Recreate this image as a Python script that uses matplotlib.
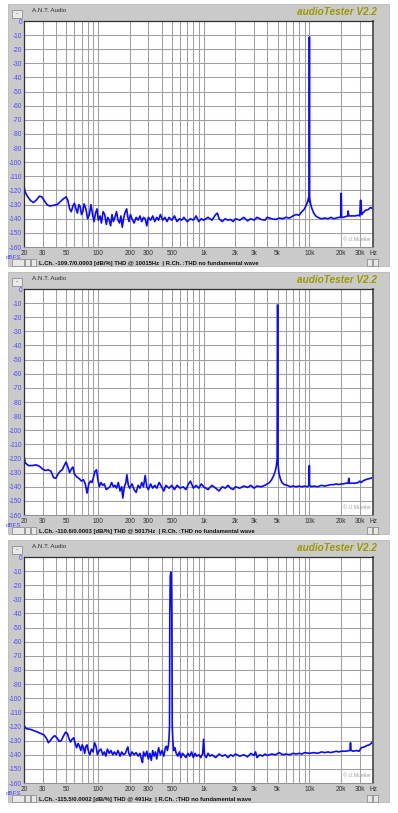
import matplotlib
matplotlib.use('Agg')
import matplotlib.pyplot as plt
from matplotlib.patches import Rectangle
from matplotlib.ticker import FixedLocator, NullFormatter

W, H = 398, 813

# --- data: measured spectra (Hz, dBFS) ---
freq_10k = [20, 20.5, 21.5, 23, 24.5, 26, 28, 29.5, 31, 33, 35, 38, 41, 44, 47, 50, 52, 54, 56, 58,
            60, 62, 64, 66, 68, 70, 72, 74, 77, 80, 83, 86, 89, 92, 95, 98, 101, 105, 108, 112,
            116, 120, 124, 128, 132, 136, 140, 145, 150, 155, 160, 165, 170, 175, 180, 187, 192, 197, 203, 210,
            220, 230, 240, 250, 260, 270, 280, 290, 300, 315, 330, 345, 360, 375, 390, 410, 430, 450, 470, 500,
            530, 560, 590, 620, 650, 700, 750, 800, 850, 900, 950, 1000, 1100, 1200, 1300, 1350, 1400, 1500, 1600, 1700,
            1800, 1900, 2000, 2200, 2400, 2600, 2800, 3000, 3200, 3500, 3800, 4000, 4400, 4800, 5200, 5600, 6000, 6500, 7000, 7500,
            8000, 8500, 9000, 9400, 9700, 9850, 9960, 9990, 10030, 10060, 10100, 10300, 10600, 11000, 11500, 12000, 13000, 14000, 15000, 16000,
            17000, 18000, 19000, 19800, 19950, 20050, 20200, 21000, 22000, 23000, 23300, 23600, 25000, 27000, 29000, 30000, 30400, 30800, 31200, 32000,
            34000, 36000, 38000, 40000]
level_10k = [-117, -121, -124, -127, -128.5, -127, -124, -124.5, -127, -130, -131, -130.5, -130, -128, -126, -124.5, -127, -133, -135, -131,
             -129, -133, -136, -130, -131.5, -137, -135, -129.5, -133, -140, -137, -130, -137, -142, -136, -133, -141, -138, -143, -135,
             -137, -144, -139, -141, -145, -137, -142, -139, -135, -141, -143, -138, -146, -140, -136, -133, -139, -142, -137, -140,
             -143, -139, -141, -138, -142, -139, -140, -145, -139, -141, -138, -142, -139, -141, -137, -141, -139, -142, -139, -141,
             -138, -142, -140, -141, -139, -142, -140, -141, -138, -142, -140, -141, -139, -141, -137, -136, -140, -142, -140, -141,
             -140.5, -142, -140, -141, -139, -141.5, -140, -141, -139, -140.5, -141, -139, -140, -140.5, -139.5, -140, -139, -139.5, -138, -137,
             -137.5, -135, -133, -130, -127, -125, -128, -11.3, -11.3, -126, -126, -130, -133, -136, -138, -139, -140, -139.5, -140, -139,
             -140, -139.5, -139, -139, -122, -122, -139, -139, -138.5, -138, -134.5, -138, -138, -138, -137.5, -138, -127, -127, -137, -136,
             -134, -133.5, -132, -133]

freq_5k = [20, 20.5, 22, 24, 26, 28, 30, 32, 34, 36, 38, 40, 42, 44, 46, 48, 50, 52, 54, 56,
           58, 60, 63, 66, 70, 73, 76, 79, 82, 85, 88, 91, 94, 97, 100, 103, 107, 111, 115, 120,
           125, 130, 135, 140, 145, 150, 156, 162, 168, 172, 178, 184, 188, 194, 200, 210, 220, 230, 240, 250,
           260, 270, 280, 290, 300, 315, 330, 345, 360, 380, 400, 420, 440, 470, 500, 530, 560, 600, 640, 680,
           720, 750, 800, 850, 900, 950, 1000, 1100, 1200, 1300, 1400, 1500, 1600, 1700, 1800, 1900, 2000, 2200, 2400, 2600,
           2800, 3000, 3200, 3500, 3800, 4000, 4200, 4400, 4600, 4800, 4900, 4960, 4990, 5030, 5060, 5150, 5300, 5500, 5800, 6200,
           6600, 7000, 7500, 8000, 8500, 9000, 9600, 9950, 10000, 10050, 10500, 11000, 12000, 13000, 14000, 15000, 16000, 17000, 18000, 19000,
           20000, 21000, 22000, 23300, 23600, 23900, 25000, 27000, 29000, 30000, 31000, 32000, 34000, 36000, 38000, 40000]
level_5k = [-118, -123, -125, -125, -124.5, -125.5, -127.5, -128.5, -128, -129, -133.5, -134, -131, -129, -128, -125, -122.5, -126, -130, -127.5,
            -126, -131, -133, -134, -136, -135, -138, -144.5, -138, -136, -137, -133, -129, -128, -135, -140, -137, -139, -138, -142,
            -141, -140, -137, -140, -139, -141, -137, -143, -140, -148, -140, -137, -131.5, -139, -141, -138, -142, -144, -139, -141,
            -137, -140, -132, -140, -142, -138, -141, -139, -141, -137, -140, -143, -139, -141, -139, -142, -139, -141, -140, -142,
            -138, -136, -141, -139, -141, -138, -140, -142, -139, -141, -143, -140, -141, -139, -141, -142, -140, -141, -139.5, -140.5,
            -139, -141, -139.5, -140, -139, -138, -137, -135, -132, -128, -124, -120, -11.3, -11.3, -124, -130, -134, -137, -138.5, -139,
            -140, -139.5, -140, -139.5, -140, -139.5, -140, -139, -125, -139, -140, -139.5, -140, -139, -139.5, -139, -138.5, -138.5, -138, -138.5,
            -138, -138, -137.5, -137.5, -134, -137.5, -137.5, -137.5, -137, -136, -137, -136, -135, -134.5, -134, -133.5]

freq_491 = [20, 21, 23, 25, 27, 29, 31, 33, 34, 35.5, 37, 39, 41, 43, 45, 47, 49.5, 51.5, 53, 55,
            57, 59, 61, 63, 65, 67, 69, 71, 73, 75, 77, 79, 81, 84, 87, 90, 93, 96, 99, 103,
            107, 111, 115, 119, 123, 128, 133, 138, 143, 149, 155, 162, 168, 175, 182, 188, 192, 196, 202, 210,
            220, 230, 240, 250, 258, 264, 270, 280, 290, 300, 310, 320, 330, 340, 350, 360, 375, 390, 405, 420,
            435, 445, 455, 465, 470, 476, 479, 484, 489, 494, 500, 505, 512, 520, 535, 550, 570, 590, 610, 630,
            650, 680, 710, 740, 770, 800, 830, 860, 900, 940, 980, 1000, 1020, 1060, 1100, 1150, 1200, 1300, 1400, 1500,
            1600, 1700, 1800, 1900, 2000, 2200, 2400, 2600, 2800, 3000, 3100, 3200, 3400, 3600, 3800, 4000, 4400, 4800, 5200, 5600,
            6000, 6500, 7000, 7500, 8000, 8500, 9000, 10000, 11000, 12000, 13000, 14000, 15000, 16000, 17000, 18000, 19000, 20000, 22000, 24200,
            24500, 24800, 26000, 28000, 29500, 31000, 33000, 35000, 37000, 39000, 40000]
level_491 = [-119.5, -121.5, -122, -123, -124, -125, -126, -129, -131.5, -130, -128, -126.5, -128, -130.5, -130, -127, -124, -125, -128, -131,
             -129, -128, -132, -135, -132, -134, -137, -133, -135, -139, -134, -133, -137, -140, -136, -138, -131.5, -134, -140, -137,
             -136, -140, -138, -141, -136, -139, -137, -140, -138, -140, -137, -141, -138, -140, -139, -136, -134.5, -139, -141, -138,
             -140, -138.5, -141, -139, -143, -145.5, -138, -141, -137.5, -143, -139, -144, -137, -141, -138, -143, -135, -140, -137, -141,
             -135, -134, -137, -133, -129, -120, -40, -14, -10.6, -14, -40, -120, -131, -137, -135, -139, -141, -138, -142, -139,
             -140, -142, -139, -141, -138, -142, -139, -141, -140, -142, -139, -129, -140, -142, -139, -141, -140, -142, -139.5, -141,
             -140, -142, -140, -141, -139.5, -141, -140, -141.5, -139, -140.5, -138, -142, -140, -141, -139.5, -140.5, -139.5, -140, -138.5, -140,
             -139.5, -140, -139, -139.5, -139, -139.5, -138.5, -139, -138.5, -139, -138, -138.5, -138, -138.5, -138, -137.5, -138, -137.5, -137.5, -137,
             -131.5, -137, -137.5, -137, -137.5, -135, -134.5, -133.5, -133, -131.5, -130.5]

status_texts = ["L.Ch. -109.7/0.0003 [dB/%] THD @ 10015Hz  | R.Ch. :THD no fundamental wave",
                "L.Ch. -110.6/0.0003 [dB/%] THD @ 5017Hz  | R.Ch. :THD no fundamental wave",
                "L.Ch. -115.5/0.0002 [dB/%] THD @ 491Hz  | R.Ch. :THD no fundamental wave"]

x_major = [20, 30, 50, 100, 200, 300, 500, 1000, 2000, 3000, 5000, 10000, 20000, 30000, 40000]
x_labels = ['20', '30', '50', '100', '200', '300', '500', '1k', '2k', '3k', '5k', '10k', '20k', '30k', 'Hz']
x_minor = [40, 60, 70, 80, 90, 400, 600, 700, 800, 900, 4000, 6000, 7000, 8000, 9000]
y_ticks = list(range(-160, 1, 10))

panels = [(freq_10k, level_10k), (freq_5k, level_5k), (freq_491, level_491)]
offsets = [0, 268, 536]

fig = plt.figure(figsize=(W / 100, H / 100), dpi=100)
fig.patch.set_facecolor('white')


def rect(x, y, w, h, z=-5, **kw):
    # pixel box (top-left origin) -> figure patch, kept below the axes
    r = Rectangle((x / W, 1 - (y + h) / H), w / W, h / H, transform=fig.transFigure, zorder=z, **kw)
    fig.patches.append(r)


def button(x, y, w, h):
    rect(x, y, w, h, z=-4, facecolor='#e8e8e8', edgecolor='#808080', lw=0.5)


for i, (fr, lv) in enumerate(panels):
    dy = offsets[i]
    # window
    rect(8, 4 + dy, 381, 262, facecolor='#cacaca', edgecolor='#b0b0b0', lw=0.5)
    button(12, 10 + dy, 10, 8)
    fig.text(17 / W, 1 - (14 + dy) / H, '-', fontsize=4, ha='center', va='center', color='#333')
    fig.text(32 / W, 1 - (11 + dy) / H, 'A.N.T. Audio', fontsize=4.5, color='#333333',
             family=['Liberation Sans', 'DejaVu Sans'], va='center')
    fig.text(377 / W, 1 - (12 + dy) / H, 'audioTester V2.2', fontsize=7.2, color='#9a9a00',
             family=['Liberation Sans', 'DejaVu Sans'], weight='bold', style='italic', ha='right', va='center')

    # status bar
    button(12, 259 + dy, 12, 7)
    button(25, 259 + dy, 5, 7)
    button(31, 259 + dy, 5, 7)
    button(367, 259 + dy, 5, 7)
    button(373, 259 + dy, 5, 7)
    fig.text(39 / W, 1 - (263 + dy) / H, status_texts[i], fontsize=4.2, color='#111111',
             family=['Liberation Sans', 'DejaVu Sans'], weight='bold', va='center')

    top = 21 + dy
    ax = fig.add_axes([24 / W, 1 - (top + 226) / H, 349 / W, 226 / H])
    ax.set_facecolor('white')
    ax.plot(fr, lv, color='#0a0aff', lw=1.2)
    ax.set_xscale('log')
    ax.set_xlim(20, 40000)
    ax.set_ylim(-160, 0)

    ax.xaxis.set_major_locator(FixedLocator(x_major))
    ax.set_xticklabels(x_labels)
    ax.xaxis.set_minor_locator(FixedLocator(x_minor))
    ax.xaxis.set_minor_formatter(NullFormatter())
    ax.set_yticks(y_ticks)
    ax.set_yticklabels([str(v) for v in y_ticks])
    ax.tick_params(axis='both', which='both', length=0)
    ax.tick_params(axis='x', labelsize=4.7, pad=2.0, labelcolor='#333333')
    ax.tick_params(axis='y', labelsize=4.7, pad=1.5, labelcolor='#4a4aff')
    for lab in ax.get_xticklabels() + ax.get_yticklabels():
        lab.set_family(['Liberation Sans', 'DejaVu Sans'])
    ax.grid(True, which='both', color='#a0a0a0', lw=0.75)
    ax.set_axisbelow(True)

    for s in ['top', 'left']:
        ax.spines[s].set_color('#303030')
        ax.spines[s].set_linewidth(0.9)
    ax.spines['right'].set_color('#505050')
    ax.spines['right'].set_linewidth(1.3)
    ax.spines['bottom'].set_color('#909090')
    ax.spines['bottom'].set_linewidth(0.7)

    ax.text(-0.008, -0.045, 'dBFS', transform=ax.transAxes, fontsize=4.5, color='#4a4aff',
            ha='right', va='center', family=['Liberation Sans', 'DejaVu Sans'])
    ax.text(0.995, 0.02, '\u00a9 U.Mueller', transform=ax.transAxes, fontsize=3.8, color='#a0a0a0',
            ha='right', va='bottom', family=['Liberation Sans', 'DejaVu Sans'])

fig.savefig('out.png', dpi=100)
